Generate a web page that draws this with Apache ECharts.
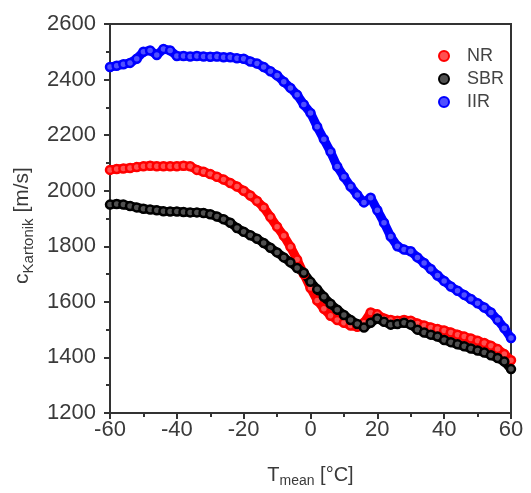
<!DOCTYPE html>
<html>
<head>
<meta charset="utf-8">
<script src="https://cdn.jsdelivr.net/npm/echarts@6/dist/echarts.min.js"></script>
<style>
  html, body { margin: 0; padding: 0; background: #fff; }
  #chart { width: 531px; height: 493px; }
</style>
</head>
<body>
<div id="chart"></div>
<script>
// Mean temperature [°C], sampled every 2 degrees
const temps = [-60,-58,-56,-54,-52,-50,-48,-46,-44,-42,-40,-38,-36,-34,-32,-30,-28,-26,-24,-22,-20,
  -18,-16,-14,-12,-10,-8,-6,-4,-2,0,2,4,6,8,10,12,14,16,18,20,
  22,24,26,28,30,32,34,36,38,40,42,44,46,48,50,52,54,56,58,60];

// Sound velocity [m/s] per rubber compound
const nr = [2075,2078,2080,2082,2085,2088,2090,2088,2088,2088,2088,2090,2088,2075,2068,2060,2050,2040,2028,2015,2000,
  1983,1963,1940,1905,1870,1838,1798,1752,1700,1650,1605,1575,1550,1535,1525,1515,1510,1525,1562,1555,
  1540,1535,1532,1535,1532,1522,1515,1508,1502,1497,1490,1482,1475,1468,1460,1452,1442,1430,1412,1390];

const sbr = [1950,1952,1950,1945,1940,1935,1932,1930,1926,1925,1925,1923,1922,1922,1920,1915,1907,1897,1885,1866,1852,
  1840,1827,1812,1795,1778,1760,1742,1722,1705,1672,1645,1618,1593,1572,1553,1535,1520,1508,1525,1540,
  1528,1518,1520,1525,1518,1500,1490,1482,1475,1463,1455,1447,1440,1432,1425,1418,1408,1398,1385,1358];

const iir = [2445,2450,2455,2460,2475,2500,2505,2488,2510,2505,2485,2485,2483,2485,2483,2482,2483,2480,2480,2477,2475,
  2465,2458,2445,2430,2415,2392,2370,2345,2310,2280,2230,2185,2140,2087,2050,2015,1985,1958,1975,1930,
  1885,1835,1800,1788,1782,1760,1740,1718,1695,1675,1655,1640,1625,1610,1595,1580,1562,1535,1505,1470];

// Each compound: stroke colour plus a slightly lighter fill for the ring centres
const seriesDefs = [
  { name: 'NR', values: nr, color: '#ff0000', fill: '#ff5050' },
  { name: 'SBR', values: sbr, color: '#000000', fill: '#505050' },
  { name: 'IIR', values: iir, color: '#0000ff', fill: '#5050ff' }
];

const xTicks = { min: -60, max: 60, step: 20 };
const yTicks = { min: 1200, max: 2600, step: 200 };

const FONT = '"Liberation Sans", Arial, sans-serif';
const AXIS_COLOR = '#333';
const TEXT_COLOR = '#3a3a3a';

const chart = echarts.init(document.getElementById('chart'), null, { renderer: 'canvas' });

const axisCommon = {
  axisLine: { show: true, onZero: false, lineStyle: { color: AXIS_COLOR, width: 2 } },
  axisTick: { show: true, inside: false, length: 6, lineStyle: { color: AXIS_COLOR, width: 2 } },
  minorTick: { show: true, splitNumber: 2, length: 4, lineStyle: { color: AXIS_COLOR, width: 2 } },
  splitLine: { show: false },
  axisLabel: { color: TEXT_COLOR, fontFamily: FONT, fontSize: 22, formatter: v => String(v) }
};

chart.setOption({
  animation: false,
  backgroundColor: '#fff',
  grid: {
    left: 110, right: 20, top: 24, bottom: 79,
    show: true, borderColor: AXIS_COLOR, borderWidth: 2, backgroundColor: 'transparent'
  },
  legend: {
    orient: 'vertical',
    left: 433, top: 42,
    icon: 'circle',
    itemWidth: 10, itemHeight: 10,
    itemGap: 5,
    textStyle: { color: '#444', fontFamily: FONT, fontSize: 18, padding: [0, 0, 0, 13] },
    data: seriesDefs.map(s => s.name)
  },
  xAxis: Object.assign({}, axisCommon, {
    type: 'value',
    min: xTicks.min, max: xTicks.max, interval: xTicks.step,
    axisLabel: Object.assign({}, axisCommon.axisLabel, { margin: 6 }),
    name: '{a|T}{b|mean}{a| [°C]}',
    nameLocation: 'middle',
    nameGap: 49,
    nameTextStyle: {
      rich: {
        a: { fontFamily: FONT, fontSize: 20, color: TEXT_COLOR },
        b: { fontFamily: FONT, fontSize: 14, color: TEXT_COLOR, padding: [12, 0, 0, 0] }
      }
    }
  }),
  yAxis: Object.assign({}, axisCommon, {
    type: 'value',
    min: yTicks.min, max: yTicks.max, interval: yTicks.step,
    axisLabel: Object.assign({}, axisCommon.axisLabel, { margin: 14 }),
    name: '{a|c}{b|Kartonik}{a| [m/s]}',
    nameLocation: 'middle',
    nameRotate: 90,
    nameGap: 74,
    nameTextStyle: {
      padding: [0, 14, 0, 0],
      rich: {
        a: { fontFamily: FONT, fontSize: 21, color: TEXT_COLOR },
        b: { fontFamily: FONT, fontSize: 15, color: TEXT_COLOR, padding: [12, 0, 0, 0] }
      }
    }
  }),
  series: seriesDefs.map(s => ({
    name: s.name,
    type: 'line',
    data: temps.map((t, i) => [t, s.values[i]]),
    symbol: 'circle',
    symbolSize: 8,
    showSymbol: true,
    showAllSymbol: true,
    color: s.color,
    itemStyle: { color: s.fill, borderColor: s.color, borderWidth: 2.5 },
    lineStyle: { color: s.color, width: 9 },
    emphasis: { disabled: true }
  }))
});
</script>
</body>
</html>
